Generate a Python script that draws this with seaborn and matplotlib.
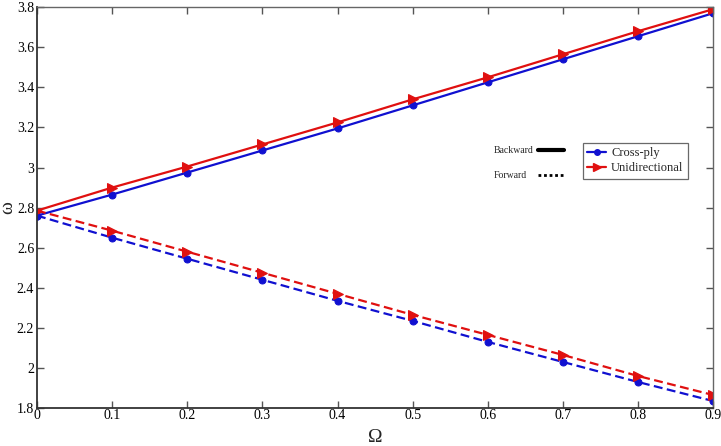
import numpy as np
import pandas as pd
import matplotlib
matplotlib.use("Agg")
import matplotlib.pyplot as plt
import seaborn as sns
from matplotlib.lines import Line2D

omega = [0, 0.1, 0.2, 0.3, 0.4, 0.5, 0.6, 0.7, 0.8, 0.9]
cross_backward = [2.76, 2.865, 2.975, 3.085, 3.195, 3.31, 3.425, 3.54, 3.655, 3.77]
uni_backward = [2.785, 2.90, 3.005, 3.115, 3.225, 3.34, 3.45, 3.565, 3.68, 3.79]
cross_forward = [2.76, 2.65, 2.545, 2.44, 2.335, 2.235, 2.13, 2.03, 1.93, 1.835]
uni_forward = [2.785, 2.685, 2.58, 2.475, 2.37, 2.265, 2.165, 2.065, 1.96, 1.865]
xtick_labels = ["0", "0.1", "0.2", "0.3", "0.4", "0.5", "0.6", "0.7", "0.8", "0.9"]
yticks = [1.8, 2.0, 2.2, 2.4, 2.6, 2.8, 3.0, 3.2, 3.4, 3.6, 3.8]
ytick_labels = ["1.8", "2", "2.2", "2.4", "2.6", "2.8", "3", "3.2", "3.4", "3.6", "3.8"]

sns.set_style("ticks")
plt.rcParams['font.family'] = ['Liberation Serif', 'DejaVu Serif']
plt.rcParams['mathtext.fontset'] = 'stix'

fig = plt.figure(figsize=(7.21, 4.46), dpi=100)
ax = fig.add_axes([0.0513, 0.085, 0.938, 0.899])

blue = "#1010d0"
red = "#e01010"

series = [
    (cross_backward, blue, "-", "o", 5),
    (cross_forward, blue, (0, (4, 2)), "o", 5),
    (uni_backward, red, "-", ">", 7),
    (uni_forward, red, (0, (4, 2)), ">", 7),
]
for vals, col, ls, mk, ms in series:
    df = pd.DataFrame({"x": omega, "y": vals})
    sns.lineplot(data=df, x="x", y="y", ax=ax, color=col, linestyle=ls,
                 marker=mk, markersize=ms, markeredgecolor=col, lw=1.6)

ax.set_xlim(0, 0.9)
ax.set_ylim(1.8, 3.8)
ax.set_xticks(omega)
ax.set_xticklabels(xtick_labels)
ax.set_yticks(yticks)
ax.set_yticklabels(ytick_labels)
ax.tick_params(direction="in", length=5, width=1, colors="#555555",
               labelcolor="black", labelsize=10, top=True, right=True)
ax.tick_params(axis="x", pad=1)
ax.tick_params(axis="y", pad=2)
for side in ["left", "bottom"]:
    ax.spines[side].set_color("#333333")
    ax.spines[side].set_linewidth(1.3)
for side in ["top", "right"]:
    ax.spines[side].set_color("#666666")
    ax.spines[side].set_linewidth(1.0)

ax.set_xlabel("Ω", fontsize=14, va="center", ha="center")
ax.set_ylabel("ω", fontsize=14, va="center", ha="center")
ax.xaxis.set_label_coords(0.5, -(437 - 408) / 401)
ax.yaxis.set_label_coords(-(37 - 8) / 676, 0.5)

# Line-style key
ax.text(0.675, 0.643, "Backward", transform=ax.transAxes, fontsize=7, va="center", ha="left")
ax.text(0.675, 0.581, "Forward", transform=ax.transAxes, fontsize=7, va="center", ha="left")
ax.plot([0.741, 0.780], [0.643, 0.643], transform=ax.transAxes, color="black", lw=3,
        solid_capstyle="round")
ax.plot([0.741, 0.780], [0.581, 0.581], transform=ax.transAxes, color="black", lw=2,
        linestyle=(0, (1, 1)))

handles = [Line2D([], [], color=blue, marker="o", markersize=4, lw=1.6),
           Line2D([], [], color=red, marker=">", markersize=6, lw=1.6)]
leg = ax.legend(handles, ["Cross-ply", "Unidirectional"], loc="center left",
                bbox_to_anchor=(0.798, 0.617), fontsize=9, frameon=True, fancybox=False,
                handlelength=1.5, handletextpad=0.4, borderpad=0.35, labelspacing=0.25,
                markerfirst=True)
leg.get_frame().set_edgecolor("#444444")
leg.get_frame().set_linewidth(0.9)

fig.savefig("out.png", dpi=100)
